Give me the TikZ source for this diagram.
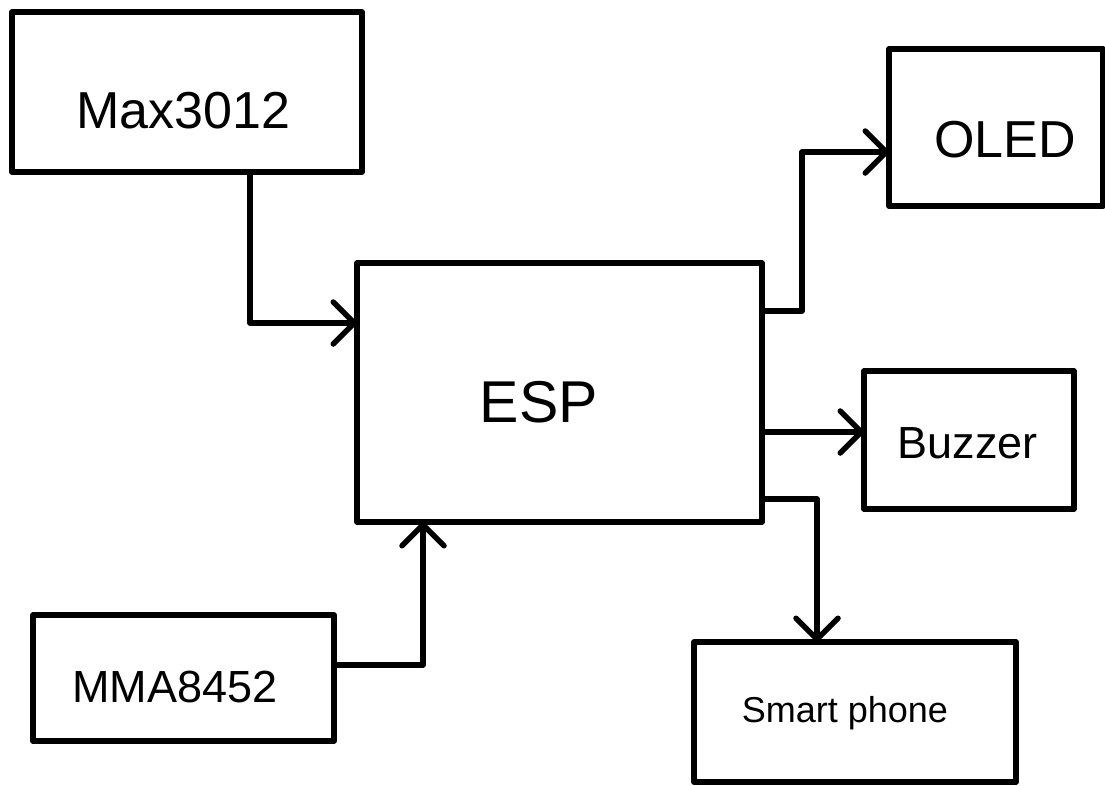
\documentclass[tikz,border=0pt]{standalone}
\usepackage{fontspec}
\setmainfont{Liberation Sans}
\usetikzlibrary{arrows.meta}
\begin{document}
\begin{tikzpicture}[x=1pt,y=-1pt,
  blk/.style={draw=black,line width=5.5pt,inner sep=0pt,outer sep=0pt,line join=round,minimum width=#1},
  lbl/.style={anchor=base,inner sep=0pt,font=\fontsize{#1}{#1}\selectfont},
  arr/.style={draw=black,line width=5.5pt,line join=round,-{Straight Barb[length=21pt,width=42pt,round]}}]
\useasboundingbox (0,0) rectangle (1105,785);
% boxes
\node[blk=350pt,minimum height=160pt] (max) at (187,92) {};
\node[blk=214pt,minimum height=157pt] (oled) at (996,127.5) {};
\node[blk=405pt,minimum height=259pt] (esp) at (559.5,392.5) {};
\node[blk=210pt,minimum height=138pt] (buzz) at (969,440) {};
\node[blk=301pt,minimum height=126pt] (mma) at (183.5,678) {};
\node[blk=322pt,minimum height=140pt] (phone) at (855,712) {};
% labels
\node[lbl=52pt] (maxT) at (183.5,128) {Max3012};
\node[lbl=52pt] (oledT) at (1005,157) {OLED};
\node[lbl=59pt] (espT) at (539,422) {ESP};
\node[lbl=45pt] (buzzT) at (967.5,458) {Buzzer};
\node[lbl=45pt] (mmaT) at (175,702) {MMA8452};
\node[lbl=36pt] (phoneT) at (845,722) {Smart phone};
% connectors
\draw[arr] ([xshift=63pt]max.south) |- (esp.west |- 0,323);
\draw[arr] (esp.east |- 0,311) -| (802,152) -- (oled.west |- 0,152);
\draw[arr] (esp.east |- 0,432) -- (buzz.west |- 0,432);
\draw[arr] (esp.east |- 0,499) -| (phone.north -| 817,0);
\draw[arr] (mma.east |- 0,665) -| (esp.south -| 423,0);
\end{tikzpicture}
\end{document}
